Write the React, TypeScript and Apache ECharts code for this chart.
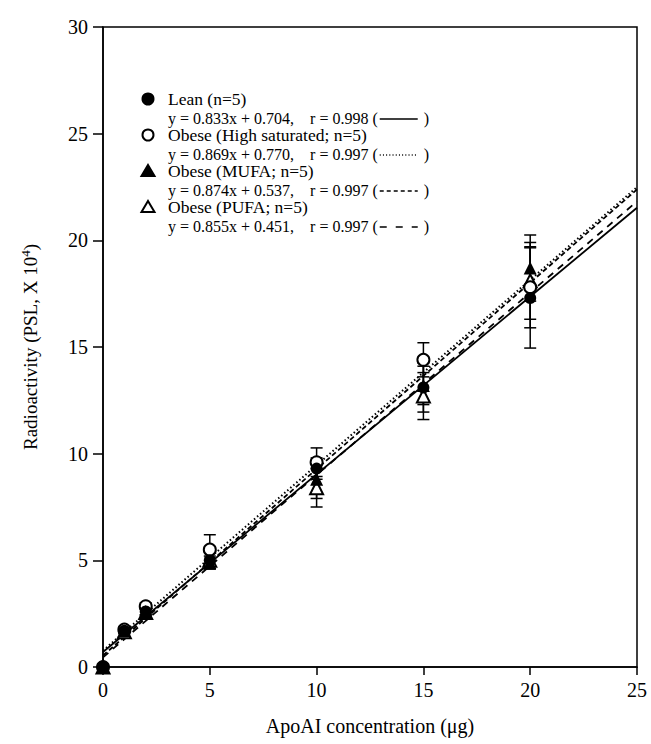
import React, { useEffect, useRef } from "react";
import * as echarts from "echarts";

// ---- data ----
const xValues = [0, 1, 2, 5, 10, 15, 20];
const leanMean = [0, 1.7, 2.6, 5.0, 9.3, 13.1, 17.3];
const leanSd = [0, 0.1, 0.15, 0.4, 0.5, 1.15, 2.35];
const highSatMean = [0, 1.75, 2.85, 5.5, 9.6, 14.4, 17.8];
const highSatSd = [0, 0.1, 0.15, 0.7, 0.67, 0.8, 1.9];
const mufaMean = [0, 1.7, 2.6, 4.9, 8.8, 13.2, 18.7];
const mufaSd = [0, 0.1, 0.15, 0.3, 0.9, 0.9, 1.55];
const pufaMean = [0, 1.65, 2.55, 5.0, 8.4, 12.7, 18.1];
const pufaSd = [0, 0.1, 0.15, 0.4, 0.9, 1.1, 1.8];

const groupNames = [
  "Lean (n=5)",
  "Obese (High saturated; n=5)",
  "Obese (MUFA; n=5)",
  "Obese (PUFA; n=5)",
];
const slopes = [0.833, 0.869, 0.874, 0.855];
const intercepts = [0.704, 0.77, 0.537, 0.451];
const rValues = ["0.998", "0.997", "0.997", "0.997"];
const lineRangeX = [0, 25];

const means = [leanMean, highSatMean, mufaMean, pufaMean];
const sds = [leanSd, highSatSd, mufaSd, pufaSd];

const FONT = "Liberation Serif";
const lineDashes: any[] = ["solid", [1.5, 2.5], [5, 3], [7, 6]];
const legendDashes: any[] = [null, [1, 2.2], [4, 3], [7, 9]];
const symbols = ["circle", "circle", "triangle", "triangle"];
const filled = [true, false, true, false];
const markerZ = [6, 5, 6, 4];

function textWidth(text: string, font: string): number {
  const c = document.createElement("canvas").getContext("2d");
  if (!c) return text.length * 7;
  c.font = font;
  return c.measureText(text).width;
}

export default function App() {
  const ref = useRef<HTMLDivElement>(null);
  useEffect(() => {
    const chart = echarts.init(ref.current as HTMLDivElement, null, { renderer: "svg" });

    const series: any[] = [];
    // error bars
    means.forEach((m, gi) => {
      series.push({
        type: "custom",
        name: groupNames[gi] + " SD",
        silent: true,
        z: 2,
        data: xValues.map((x, i) => [x, m[i], sds[gi][i]]),
        renderItem: (params: any, api: any) => {
          const x = api.value(0);
          const y = api.value(1);
          const s = api.value(2);
          if (!s) return { type: "group", children: [] };
          const top = api.coord([x, y + s]);
          const bot = api.coord([x, y - s]);
          const hw = 6;
          const st = { stroke: "#000", lineWidth: 1.5 };
          return {
            type: "group",
            children: [
              { type: "line", shape: { x1: top[0], y1: top[1], x2: bot[0], y2: bot[1] }, style: st },
              { type: "line", shape: { x1: top[0] - hw, y1: top[1], x2: top[0] + hw, y2: top[1] }, style: st },
              { type: "line", shape: { x1: bot[0] - hw, y1: bot[1], x2: bot[0] + hw, y2: bot[1] }, style: st },
            ],
          };
        },
      });
    });
    // regression lines
    slopes.forEach((a, gi) => {
      series.push({
        type: "line",
        name: groupNames[gi] + " fit",
        silent: true,
        z: 3,
        symbol: "none",
        data: lineRangeX.map((x) => [x, a * x + intercepts[gi]]),
        lineStyle: { color: "#000", width: gi === 1 ? 2 : 1.8, type: lineDashes[gi] },
      });
    });
    // markers
    means.forEach((m, gi) => {
      series.push({
        type: "scatter",
        name: groupNames[gi],
        z: markerZ[gi],
        symbol: symbols[gi],
        symbolSize: symbols[gi] === "triangle" ? 13 : 12,
        data: xValues.map((x, i) => [x, m[i]]),
        itemStyle: filled[gi]
          ? { color: "#000", opacity: 1 }
          : { color: "#fff", borderColor: "#000", borderWidth: 2, opacity: 1 },
      });
    });

    // legend graphics
    const legendX = 148;
    const textX = 168;
    const rowY = [99, 135, 171, 207];
    const eqDy = 19;
    const titleFont = `17.5px "${FONT}"`;
    const eqFont = `16px "${FONT}"`;
    const graphics: any[] = [];
    rowY.forEach((y, gi) => {
      const fill = filled[gi] ? "#000" : "#fff";
      if (symbols[gi] === "circle") {
        graphics.push({
          type: "circle",
          shape: { cx: legendX, cy: y, r: 5.5 },
          style: { fill, stroke: "#000", lineWidth: 2 },
        });
      } else {
        graphics.push({
          type: "polygon",
          shape: { points: [[legendX, y - 6], [legendX + 6.5, y + 5], [legendX - 6.5, y + 5]] },
          style: { fill, stroke: "#000", lineWidth: 2 },
        });
      }
      graphics.push({
        type: "text",
        x: textX,
        y,
        style: { text: groupNames[gi], font: titleFont, fill: "#000", verticalAlign: "middle", align: "left" },
      });
      const eqY = y + eqDy;
      const eq = `y = ${slopes[gi].toFixed(3)}x + ${intercepts[gi].toFixed(3)},    r = ${rValues[gi]} (`;
      const w = textWidth(eq, eqFont);
      const lx1 = textX + w + 2;
      const lx2 = lx1 + 38;
      graphics.push({
        type: "text",
        x: textX,
        y: eqY,
        style: { text: eq, font: eqFont, fill: "#000", verticalAlign: "middle", align: "left" },
      });
      graphics.push({
        type: "line",
        shape: { x1: lx1, y1: eqY + 1, x2: lx2, y2: eqY + 1 },
        style: { stroke: "#000", lineWidth: 1.3, lineDash: legendDashes[gi] },
      });
      graphics.push({
        type: "text",
        x: lx2 + 6,
        y: eqY,
        style: { text: ")", font: eqFont, fill: "#000", verticalAlign: "middle", align: "left" },
      });
    });

    const axisText = { color: "#000", fontFamily: FONT, fontSize: 20 };
    chart.setOption({
      animation: false,
      backgroundColor: "#fff",
      grid: {
        left: 103,
        right: 14,
        top: 27,
        bottom: 77,
        show: true,
        borderColor: "#000",
        borderWidth: 1.5,
        backgroundColor: "transparent",
      },
      xAxis: {
        type: "value",
        min: 0,
        max: 25,
        interval: 5,
        name: "ApoAI concentration (μg)",
        nameLocation: "middle",
        nameGap: 49,
        nameTextStyle: { ...axisText },
        axisLine: { show: true, lineStyle: { color: "#000", width: 1.5 } },
        axisTick: { show: true, length: 8, inside: false, lineStyle: { color: "#000", width: 1.5 } },
        axisLabel: { ...axisText, margin: 13 },
        splitLine: { show: false },
      },
      yAxis: {
        type: "value",
        min: 0,
        max: 30,
        interval: 5,
        name: "{a|Radioactivity (PSL, X 10}{s|4}{a|)}",
        nameLocation: "middle",
        nameGap: 62,
        nameRotate: 90,
        nameTextStyle: {
          ...axisText,
          rich: {
            a: { fontFamily: FONT, fontSize: 19, color: "#000" },
            s: { fontFamily: FONT, fontSize: 13, color: "#000", padding: [0, 0, 9, 0] },
          },
        },
        axisLine: { show: true, lineStyle: { color: "#000", width: 1.5 } },
        axisTick: { show: true, length: 10, inside: false, lineStyle: { color: "#000", width: 1.5 } },
        axisLabel: { ...axisText, margin: 15 },
        splitLine: { show: false },
      },
      graphic: graphics,
      series,
    });
    return () => chart.dispose();
  }, []);
  return <div ref={ref} style={{ position: "absolute", left: 0, top: 0, width: 651, height: 744 }} />;
}
